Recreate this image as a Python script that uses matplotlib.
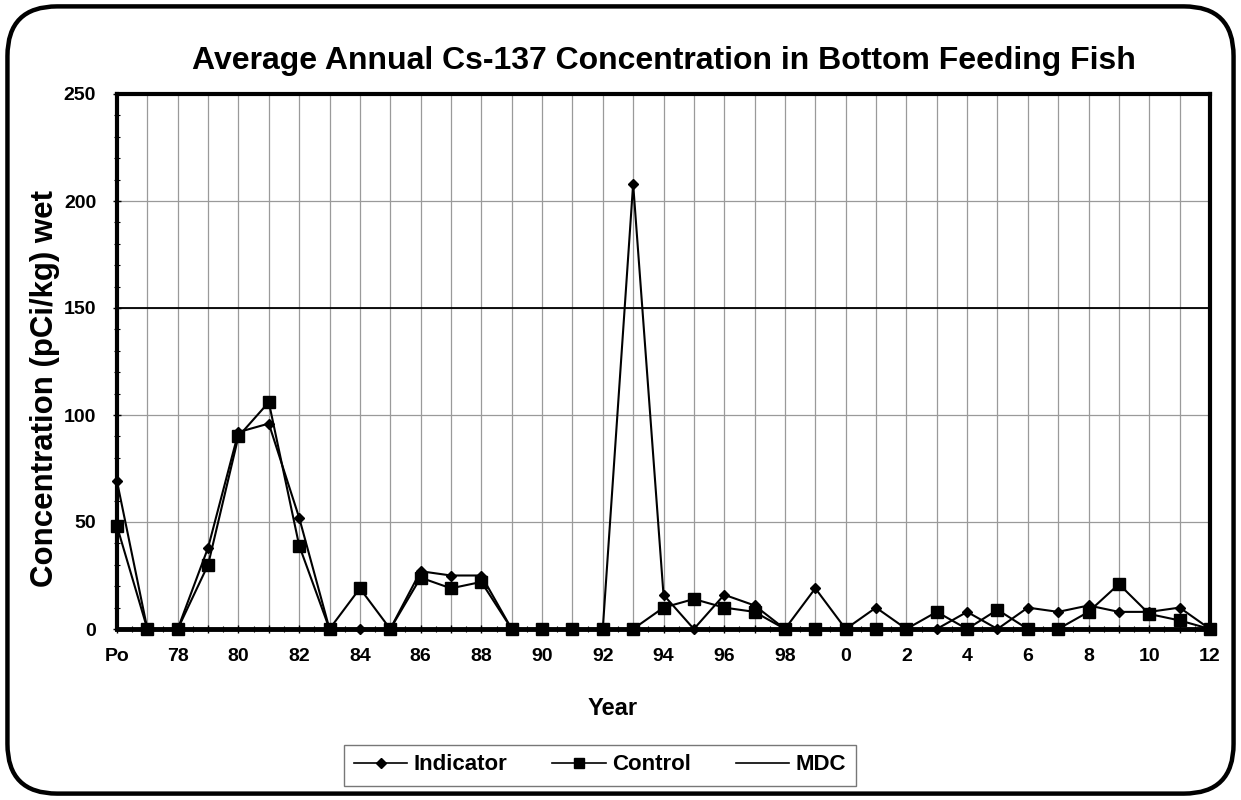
import matplotlib
matplotlib.use("Agg")
import matplotlib.pyplot as plt
from matplotlib.patches import FancyBboxPatch
from matplotlib.lines import Line2D
from matplotlib.ticker import MultipleLocator, FixedLocator

plt.rcParams['font.family'] = ['Liberation Sans', 'DejaVu Sans']
plt.rcParams['font.weight'] = 'bold'

# Sampling years: pre-operational, then 1977-1999 and 2000-2012
years = ['Po'] + [str(y) for y in range(77, 100)] + [str(y) for y in range(0, 13)]

indicator = [69, 0, 0, 38, 92, 96, 52, 0, 0, 0, 27, 25, 25, 0, 0, 0, 0, 208,
             16, 0, 16, 11, 0, 19, 0, 10, 0, 0, 8, 0, 10, 8, 11, 8, 8, 10, 0]
control = [48, 0, 0, 30, 90, 106, 39, 0, 19, 0, 24, 19, 22, 0, 0, 0, 0, 0,
           10, 14, 10, 8, 0, 0, 0, 0, 0, 8, 0, 9, 0, 0, 8, 21, 7, 4, 0]
mdc = [150] * len(years)

fig = plt.figure(figsize=(12.41, 8.0), dpi=100)

# Rounded outer frame
frame = FancyBboxPatch((0.006, 0.008), 0.988, 0.984,
                       boxstyle="round,pad=0,rounding_size=0.04",
                       transform=fig.transFigure, facecolor='none',
                       edgecolor='black', linewidth=3.2, mutation_aspect=1241/800,
                       zorder=10)
fig.patches.append(frame)

ax = fig.add_axes([117/1241, 1 - 629/800, (1210 - 117)/1241, (629 - 94)/800])
x = list(range(len(years)))

ax.plot(x, mdc, color='black', linewidth=1.3, label='MDC', zorder=3)
ax.plot(x, control, color='black', linewidth=1.5, marker='s', markersize=8,
        label='Control', zorder=4, clip_on=False)
ax.plot(x, indicator, color='black', linewidth=1.5, marker='D', markersize=5.5,
        label='Indicator', zorder=5, clip_on=False)

ax.set_xlim(0, len(years) - 1)
ax.set_ylim(0, 250)

ax.xaxis.set_major_locator(FixedLocator(x))
ax.set_xticklabels([lab if i % 2 == 0 else '' for i, lab in enumerate(years)])
ax.xaxis.set_minor_locator(MultipleLocator(0.5))
ax.yaxis.set_major_locator(MultipleLocator(50))
ax.yaxis.set_minor_locator(MultipleLocator(10))

ax.tick_params(axis='both', which='major', direction='inout', length=6, width=1,
               labelsize=14)
ax.tick_params(axis='both', which='minor', direction='inout', length=4, width=0.8)
ax.tick_params(axis='x', which='major', pad=11)
ax.tick_params(axis='y', which='major', pad=12)
for lab in ax.get_xticklabels() + ax.get_yticklabels():
    lab.set_fontweight('bold')

ax.grid(True, which='major', color='#9a9a9a', linewidth=0.9)
ax.set_axisbelow(True)
for side in ['left', 'right', 'top']:
    ax.spines[side].set_linewidth(3)
ax.spines['bottom'].set_linewidth(3.5)

ax.set_ylabel('Concentration (pCi/kg) wet', fontsize=22.5, fontweight='bold')
ax.yaxis.set_label_coords(-0.066, 0.449)
ax.set_xlabel('Year', fontsize=17, fontweight='bold')
ax.xaxis.set_label_coords(0.453, -0.148)
ax.xaxis.label.set_va('center')
ax.yaxis.label.set_va('center')

fig.text(664/1241, 1 - 61/800,
         'Average Annual Cs-137 Concentration in Bottom Feeding Fish',
         ha='center', va='center', fontsize=23, fontweight='bold')

handles = [
    Line2D([], [], color='black', linewidth=1.2, marker='D', markersize=5),
    Line2D([], [], color='black', linewidth=1.2, marker='s', markersize=6.5),
    Line2D([], [], color='black', linewidth=1.2),
]
leg = fig.legend(handles, ['Indicator', 'Control', 'MDC'], loc='center',
                 bbox_to_anchor=(600/1241, 1 - 765/800), ncol=3, frameon=True,
                 fancybox=False, edgecolor='#555555', fontsize=16,
                 handlelength=2.4, columnspacing=2.0, handletextpad=0.3,
                 borderpad=0.45)
leg.get_frame().set_linewidth(1.0)
for t in leg.get_texts():
    t.set_fontweight('bold')

fig.savefig('out.png', dpi=100, facecolor='white')
